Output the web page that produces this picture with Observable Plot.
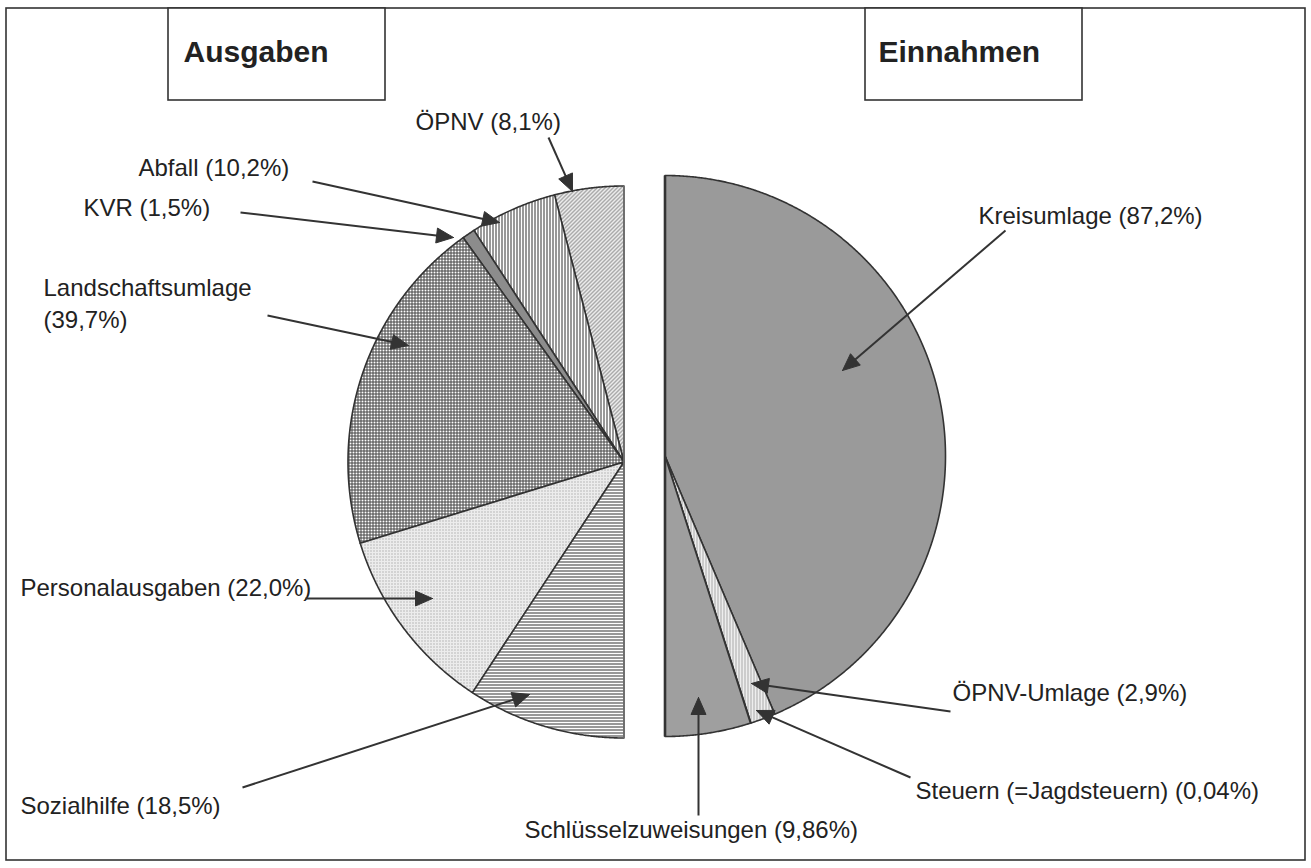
<!DOCTYPE html>
<html><head><meta charset="utf-8">
<script src="https://cdn.jsdelivr.net/npm/d3@7"></script>
<script src="https://cdn.jsdelivr.net/npm/@observablehq/plot@0.6"></script>
<style>
body{margin:0;background:#fff}
#chart svg{display:block}
</style>
</head><body>
<svg width="0" height="0" style="position:absolute">
  <defs>
    <pattern id="pDiag" width="4" height="4" patternUnits="userSpaceOnUse">
      <rect width="4" height="4" fill="#fff"/>
      <path d="M-1,1 l2,-2 M0,4 l4,-4 M3,5 l2,-2" stroke="#777" stroke-width="1.1"/>
    </pattern>
    <pattern id="pVert" width="3" height="3" patternUnits="userSpaceOnUse">
      <rect width="3" height="3" fill="#fff"/>
      <rect x="0" width="1" height="3" fill="#333"/>
    </pattern>
    <pattern id="pGrid" width="3" height="3" patternUnits="userSpaceOnUse">
      <rect width="3" height="3" fill="#fff"/>
      <rect x="0" width="1" height="3" fill="#444"/>
      <rect y="0" width="3" height="1" fill="#444"/>
    </pattern>
    <pattern id="pDots" width="3" height="3" patternUnits="userSpaceOnUse">
      <rect width="3" height="3" fill="#ececec"/>
      <rect x="1" y="1" width="1" height="1" fill="#888"/>
    </pattern>
    <pattern id="pHoriz" width="3" height="3" patternUnits="userSpaceOnUse">
      <rect width="3" height="3" fill="#fff"/>
      <rect y="0" width="3" height="1" fill="#333"/>
    </pattern>
    <pattern id="pVertLight" width="3" height="3" patternUnits="userSpaceOnUse">
      <rect width="3" height="3" fill="#eee"/>
      <rect x="0" width="1" height="3" fill="#aaa"/>
    </pattern>
    <pattern id="pVertGray" width="2" height="2" patternUnits="userSpaceOnUse">
      <rect width="2" height="2" fill="#b4b4b4"/>
      <rect x="0" width="1" height="2" fill="#8a8a8a"/>
    </pattern>
  </defs>
</svg>
<div id="chart"></div>
<script>
// ---------------- data ----------------
const panelTitles = ["Ausgaben", "Einnahmen"];
const ausgabenLabels = ["ÖPNV (8,1%)", "Abfall (10,2%)", "KVR (1,5%)", "Landschaftsumlage\n(39,7%)", "Personalausgaben (22,0%)", "Sozialhilfe (18,5%)"];
const ausgabenValues = [8.1, 10.2, 1.5, 39.7, 22.0, 18.5];
const einnahmenLabels = ["Kreisumlage (87,2%)", "ÖPNV-Umlage (2,9%)", "Steuern (=Jagdsteuern) (0,04%)", "Schlüsselzuweisungen (9,86%)"];
const einnahmenValues = [87.2, 2.9, 0.04, 9.86];

// ---------------- layout / styles ----------------
const W = 1311, H = 868;
const FONT = "'Liberation Sans', Arial, Helvetica, sans-serif";
const ausgabenFills = ["url(#pDiag)", "url(#pVert)", "#8c8c8c", "url(#pGrid)", "url(#pDots)", "url(#pHoriz)"];
const einnahmenFills = ["#9a9a9a", "url(#pVertLight)", "#cccccc", "url(#pVertGray)"];
// label anchor, arrow start and arrow tip (pixel space of the frame)
const ausgabenLayout = [
  {tx: 415, ty: 119, sx: 548, sy: 137, ex: 572, ey: 191},
  {tx: 138, ty: 165, sx: 312, sy: 181, ex: 499, ey: 222},
  {tx: 83,  ty: 205, sx: 240, sy: 212, ex: 453, ey: 237},
  {tx: 43,  ty: 301, sx: 267, sy: 315, ex: 408, ey: 345},
  {tx: 20,  ty: 585, sx: 305, sy: 598, ex: 432, ey: 598},
  {tx: 20,  ty: 803, sx: 242, sy: 787, ex: 529, ey: 694}
];
const einnahmenLayout = [
  {tx: 978, ty: 213, sx: 1005, sy: 230, ex: 842, ey: 370},
  {tx: 952, ty: 690, sx: 950,  sy: 711, ex: 751, ey: 683},
  {tx: 915, ty: 788, sx: 910,  sy: 777, ex: 756, ey: 710},
  {tx: 524, ty: 827, sx: 698,  sy: 815, ex: 698, ey: 697}
];
const pies = [
  {name: panelTitles[0], cx: 623.5, cy: 461.5, r: 276, dir: -1, values: ausgabenValues, labels: ausgabenLabels, fills: ausgabenFills, layout: ausgabenLayout, edge: "#777"},
  {name: panelTitles[1], cx: 664.5, cy: 455.5, r: 280.5, dir: 1, values: einnahmenValues, labels: einnahmenLabels, fills: einnahmenFills, layout: einnahmenLayout, edge: "#333"}
];
const titleBoxes = [
  {title: panelTitles[0], x1: 168, x2: 385, y1: 8, y2: 100, tx: 183, ty: 52},
  {title: panelTitles[1], x1: 865, x2: 1082, y1: 8, y2: 100, tx: 878, ty: 52}
];

// ---------------- geometry from values ----------------
function slicePolygons(p) {
  const total = d3.sum(p.values);
  let acc = 0;
  return p.values.map((v, i) => {
    const a0 = acc / total * Math.PI;   // half pie: 100% = 180°
    acc += v;
    const a1 = acc / total * Math.PI;
    const pts = [{x: p.cx, y: p.cy}];
    const n = Math.max(2, Math.ceil((a1 - a0) / (Math.PI / 720)));
    for (let k = 0; k <= n; ++k) {
      const a = a0 + (a1 - a0) * k / n;
      pts.push({x: p.cx + p.dir * p.r * Math.sin(a), y: p.cy - p.r * Math.cos(a)});
    }
    pts.push({x: p.cx, y: p.cy});
    return {pts, fill: p.fills[i], label: p.labels[i]};
  });
}
const HEAD_LEN = 17, HEAD_HALF = 7.5;
function arrowHead(l) {
  const dx = l.ex - l.sx, dy = l.ey - l.sy, d = Math.hypot(dx, dy);
  const ux = dx / d, uy = dy / d, bx = l.ex - ux * HEAD_LEN, by = l.ey - uy * HEAD_LEN;
  return [
    {x: l.ex, y: l.ey},
    {x: bx - uy * HEAD_HALF, y: by + ux * HEAD_HALF},
    {x: bx + uy * HEAD_HALF, y: by - ux * HEAD_HALF},
    {x: l.ex, y: l.ey}
  ];
}
const shaftEnd = (d, k) => {
  const L = Math.hypot(d.ex - d.sx, d.ey - d.sy);
  return k === "x" ? d.ex - (d.ex - d.sx) / L * (HEAD_LEN - 4) : d.ey - (d.ey - d.sy) / L * (HEAD_LEN - 4);
};

const marks = [];
// outer frame
marks.push(Plot.rect([{x1: 6, x2: 1305, y1: 8, y2: 860}], {x1: "x1", x2: "x2", y1: "y1", y2: "y2", fill: "none", stroke: "#333", strokeWidth: 1.6}));
// title boxes
marks.push(Plot.rect(titleBoxes, {x1: "x1", x2: "x2", y1: "y1", y2: "y2", fill: "#fff", stroke: "#333", strokeWidth: 1.6}));
marks.push(Plot.text(titleBoxes, {x: "tx", y: "ty", text: "title", textAnchor: "start", lineAnchor: "middle", fontSize: 30, fontWeight: "bold", fill: "#222"}));

for (const p of pies) {
  const slices = slicePolygons(p);
  for (const s of slices) {
    marks.push(Plot.line(s.pts, {x: "x", y: "y", fill: s.fill, stroke: "#333", strokeWidth: 1.6, strokeLinejoin: "round", curve: "linear"}));
  }
  // straight diameter edge
  marks.push(Plot.link([{x1: p.cx, y1: p.cy - p.r, x2: p.cx, y2: p.cy + p.r}], {x1: "x1", y1: "y1", x2: "x2", y2: "y2", stroke: p.edge, strokeWidth: p.dir > 0 ? 2.6 : 1.6}));
  // labels
  const lab = p.labels.map((t, i) => ({text: t, ...p.layout[i]}));
  marks.push(Plot.text(lab, {x: "tx", y: "ty", text: "text", textAnchor: "start", lineAnchor: "middle", fontSize: 24, lineHeight: 1.33, fill: "#222"}));
  // arrows
  marks.push(Plot.link(lab, {x1: "sx", y1: "sy", x2: d => shaftEnd(d, "x"), y2: d => shaftEnd(d, "y"), stroke: "#333", strokeWidth: 2}));
  const heads = lab.flatMap((d, i) => arrowHead(d).map(pt => ({...pt, id: p.name + i})));
  marks.push(Plot.line(heads, {x: "x", y: "y", z: "id", fill: "#333", stroke: "#333", strokeWidth: 1, curve: "linear"}));
}

const chart = Plot.plot({
  width: W, height: H,
  margin: 0,
  x: {domain: [0, W], range: [0, W], axis: null},
  y: {domain: [0, H], range: [0, H], axis: null},
  style: {fontFamily: FONT, background: "#fff"},
  marks
});
document.getElementById("chart").appendChild(chart);
</script>
</body></html>
